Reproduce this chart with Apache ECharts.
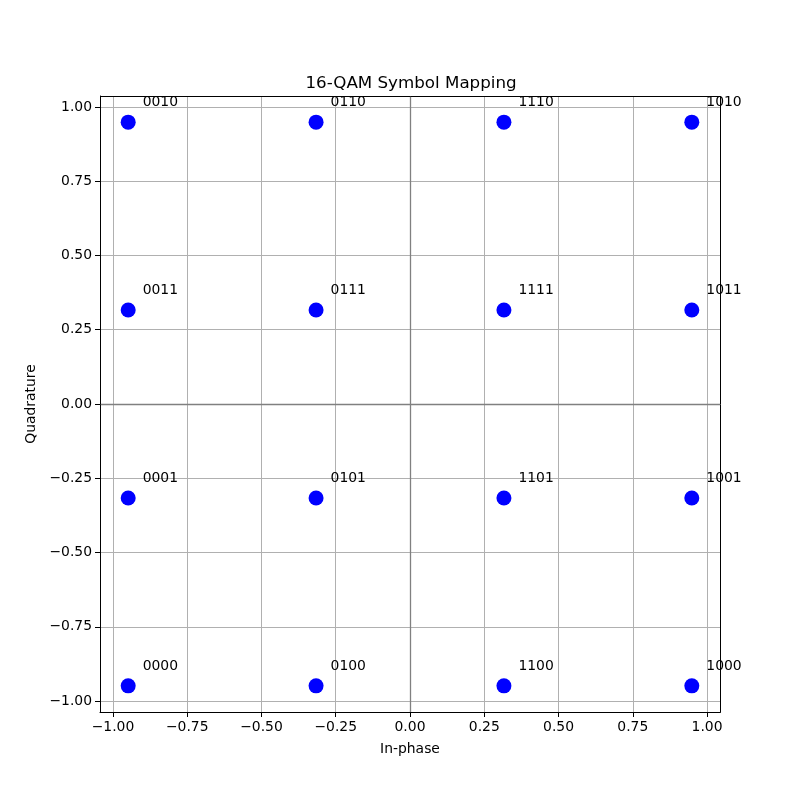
<!DOCTYPE html>
<html><head><meta charset="utf-8">
<script src="https://cdn.jsdelivr.net/npm/echarts@6/dist/echarts.min.js"></script>
<style>html,body{margin:0;padding:0;background:#fff}#c{width:800px;height:800px}</style>
</head><body><div id="c"></div>
<script>
const inPhase = [-0.9487,-0.3162,0.3162,0.9487, -0.9487,-0.3162,0.3162,0.9487, -0.9487,-0.3162,0.3162,0.9487, -0.9487,-0.3162,0.3162,0.9487];
const quadrature = [0.9487,0.9487,0.9487,0.9487, 0.3162,0.3162,0.3162,0.3162, -0.3162,-0.3162,-0.3162,-0.3162, -0.9487,-0.9487,-0.9487,-0.9487];
const bitLabels = ['0010','0110','1110','1010', '0011','0111','1111','1011', '0001','0101','1101','1001', '0000','0100','1100','1000'];
const xTicks = [-1.0,-0.75,-0.5,-0.25,0,0.25,0.5,0.75,1.0];
const yTicks = [-1.0,-0.75,-0.5,-0.25,0,0.25,0.5,0.75,1.0];

const font = 'DejaVu Sans';
const fmt = v => v.toFixed(2).replace('-', '\u2212');
const pts = inPhase.map((x,i)=>({value:[x, quadrature[i]], name: bitLabels[i]}));

const chart = echarts.init(document.getElementById('c'), null, {renderer:'canvas'});
chart.setOption({
  animation:false,
  backgroundColor:'#fff',
  title:{text:'16-QAM Symbol Mapping', left:406, top:70, textAlign:'center',
    textStyle:{fontFamily:font, fontSize:16.7, fontWeight:'normal', color:'#000'}},
  grid:{left:100, right:80, top:96, bottom:88, containLabel:false},
  xAxis:{type:'value', min:-1.0436, max:1.0436,
    name:'In-phase', nameLocation:'middle', nameGap:30,
    nameTextStyle:{fontFamily:font, fontSize:13.9, color:'#000'},
    axisLine:{show:true, onZero:false, lineStyle:{color:'#000', width:1}},
    axisTick:{show:true, length:5, customValues:xTicks, lineStyle:{color:'#000'}},
    axisLabel:{customValues:xTicks, formatter:fmt, fontFamily:font, fontSize:13.9, color:'#000', margin:8},
    splitLine:{show:true, lineStyle:{color:'#b0b0b0', width:1}}},
  yAxis:{type:'value', min:-1.0367, max:1.0367,
    name:'Quadrature', nameLocation:'middle', nameGap:51, nameRotate:90,
    nameTextStyle:{fontFamily:font, fontSize:13.9, color:'#000'},
    axisLine:{show:true, onZero:false, lineStyle:{color:'#000', width:1}},
    axisTick:{show:true, length:5, customValues:yTicks, lineStyle:{color:'#000'}},
    axisLabel:{customValues:yTicks, formatter:fmt, fontFamily:font, fontSize:13.9, color:'#000', margin:8},
    splitLine:{show:true, lineStyle:{color:'#b0b0b0', width:1}}},
  graphic:[{type:'rect', shape:{x:100.5, y:96.5, width:620, height:616}, style:{fill:'none', stroke:'#000', lineWidth:1}, z:100, silent:true}],
  series:[{
    type:'scatter', data:pts, symbol:'circle', symbolSize:15,
    itemStyle:{color:'#0000ff', opacity:1},
    label:{show:true, formatter:p=>p.name, position:[22,-5], align:'left', verticalAlign:'bottom',
      fontFamily:font, fontSize:13.9, color:'#000'},
    labelLayout:{hideOverlap:false},
    markLine:{silent:true, symbol:'none', label:{show:false}, animation:false,
      lineStyle:{color:'#808080', width:1.3, type:'solid'},
      data:[{xAxis:0},{yAxis:0}]},
    z:3
  }]
});
</script></body></html>
